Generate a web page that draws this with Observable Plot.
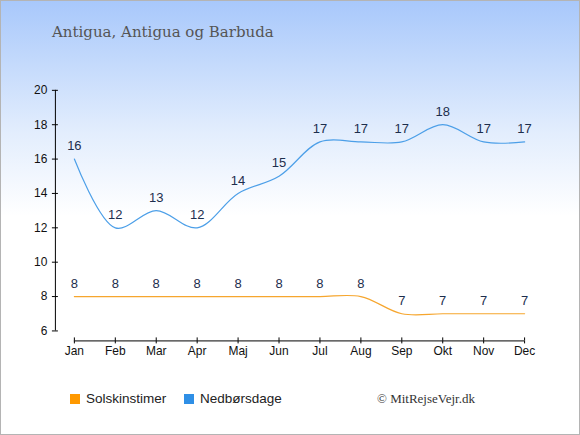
<!DOCTYPE html>
<html><head><meta charset="utf-8">
<script src="https://cdn.jsdelivr.net/npm/d3@7"></script>
<script src="https://cdn.jsdelivr.net/npm/@observablehq/plot@0.6"></script>
<style>
body{margin:0;}
#wrap{position:relative;width:578px;height:433px;border:1px solid #b4b4b4;background:linear-gradient(to bottom,#a8c8fb 0px,#e2edfd 130px,#ffffff 215px,#ffffff 433px);overflow:hidden;font-family:"Liberation Sans",Arial,sans-serif;}
#title{position:absolute;left:51px;top:22px;font-family:"DejaVu Serif",Georgia,serif;font-size:15px;color:#555;white-space:nowrap;}
#chart{position:absolute;left:-1px;top:-1px;}
.leg{position:absolute;top:388px;font-size:13.5px;color:#222;white-space:nowrap;line-height:20px;}
.sq{display:inline-block;width:10px;height:10px;vertical-align:-1px;margin-right:6px;}
#copy{position:absolute;left:376px;top:388px;font-family:"Liberation Serif","Times New Roman",serif;font-size:13px;color:#333;line-height:20px;white-space:nowrap;}
</style></head>
<body>
<div id="wrap">
  <div id="title"></div>
  <div id="chart"></div>
  <div id="leg0" class="leg" style="left:69px"></div>
  <div id="leg1" class="leg" style="left:183px"></div>
  <div id="copy">© MitRejseVejr.dk</div>
</div>
<script>
const titleText = "Antigua, Antigua og Barbuda";
const months = ["Jan","Feb","Mar","Apr","Maj","Jun","Jul","Aug","Sep","Okt","Nov","Dec"];
const sunHours = [8,8,8,8,8,8,8,8,7,7,7,7];
const rainDays = [16,12,13,12,14,15,17,17,17,18,17,17];
const yTicks = [6,8,10,12,14,16,18,20];
const seriesNames = ["Solskinstimer","Nedbørsdage"];
const lineColors = ["#f6a62e","#4c9fe8"];
const legendColors = ["#ff9900","#2f8fe6"];

document.getElementById("title").textContent = titleText;
seriesNames.forEach((n,i)=>{
  const el = document.getElementById("leg"+i);
  el.innerHTML = `<span class="sq" style="background:${legendColors[i]}"></span>`;
  el.appendChild(document.createTextNode(n));
});

const data = months.map((m,i)=>({month:m, sun:sunHours[i], rain:rainDays[i]}));
const labelColor = "#1d2e4d";

const chart = Plot.plot({
  width:580, height:370,
  marginTop:90, marginBottom:29, marginLeft:55, marginRight:55,
  insetLeft:19, insetBottom:10,
  style:{background:"transparent", fontFamily:"Liberation Sans, Arial, sans-serif", fontSize:"12px", color:"#111", overflow:"visible"},
  x:{type:"point", domain:months, padding:0, label:null},
  y:{domain:[6,20], label:null},
  marks:[
    Plot.ruleX([months[0]], {x:d=>d, dx:-19, y1:6, y2:20, stroke:"#000"}),
    Plot.ruleY([yTicks[0]], {y:d=>d, dy:10, insetLeft:19, stroke:"#000"}),
    Plot.axisY(yTicks, {tickSize:3, tickPadding:5, label:null, stroke:"#000", fill:"#111", fontSize:12}),
    Plot.axisY(yTicks, {tickSize:3, dx:3, tickFormat:()=>"", label:null, stroke:"#000"}),
    Plot.axisX({tickSize:3, tickPadding:3, label:null, stroke:"#000", fill:"#111", fontSize:12}),
    Plot.axisX({tickSize:3, dy:-3, tickFormat:()=>"", label:null, stroke:"#000"}),
    Plot.line(data, {x:"month", y:"sun", curve:"catmull-rom", stroke:lineColors[0], strokeWidth:1.2}),
    Plot.line(data, {x:"month", y:"rain", curve:"catmull-rom", stroke:lineColors[1], strokeWidth:1.2}),
    Plot.text(data, {x:"month", y:"sun", text:d=>String(d.sun), dy:-13, fill:labelColor, fontSize:13}),
    Plot.text(data, {x:"month", y:"rain", text:d=>String(d.rain), dy:-13, fill:labelColor, fontSize:13})
  ]
});
document.getElementById("chart").appendChild(chart);
</script>
</body></html>
